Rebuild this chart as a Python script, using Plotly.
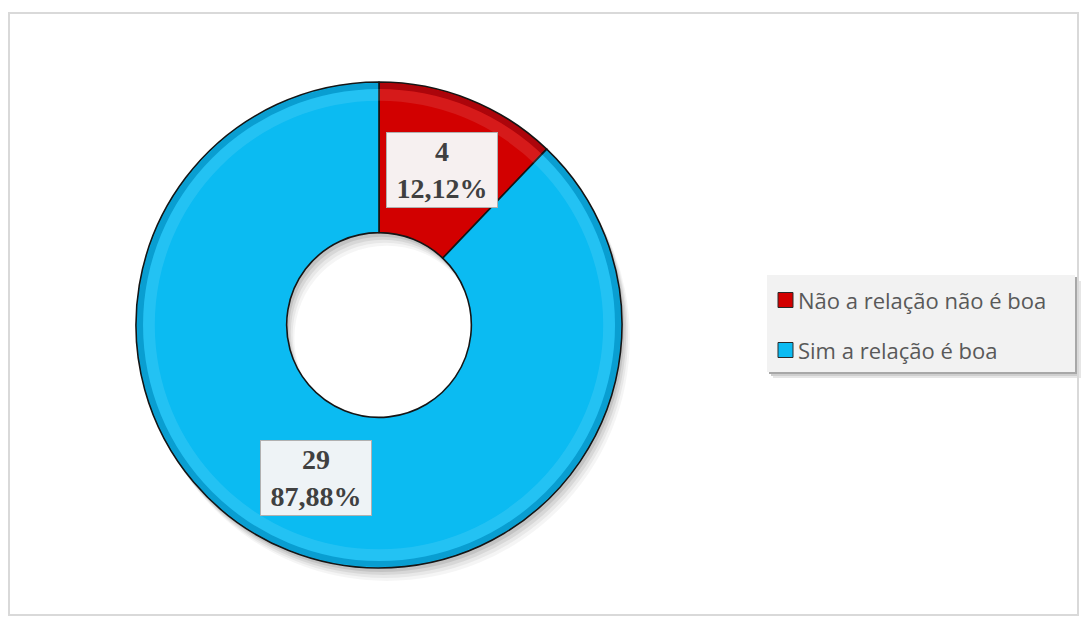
import plotly.graph_objects as go

# Survey answers
labels = ["Não a relação não é boa", "Sim a relação é boa"]
counts = [4, 29]
colors = ["#D20000", "#0BBBF2"]
box_colors = ["#F6F0F0", "#EEF3F6"]

W, H = 1085, 624


def px(x):
    return x / W


def py(y):
    return 1 - y / H


total = sum(counts)
pcts = [c / total * 100 for c in counts]
texts = [f"<b>{c}<br>{p:.2f}%</b>".replace(".", ",") for c, p in zip(counts, pcts)]

# ring geometry in pixels
cx, cy, r = 379, 325, 243
hole = 0.38


def dom(dx=0, dy=0, shrink=0):
    return dict(x=[px(cx - r + dx + shrink), px(cx + r + dx - shrink)],
                y=[py(cy + r + dy - shrink), py(cy - r + dy + shrink)])


fig = go.Figure()

# soft drop shadow under the ring
for off, alpha in [(13, 0.04), (10, 0.05), (7, 0.07), (4, 0.09)]:
    fig.add_trace(go.Pie(
        values=[1], labels=["s"], hole=hole, domain=dom(off * 0.6, off),
        marker=dict(colors=[f"rgba(0,0,0,{alpha})"], line=dict(width=0)),
        textinfo="none", hoverinfo="skip", sort=False, showlegend=False,
    ))

fig.add_trace(go.Pie(
    labels=labels, values=counts, hole=hole, domain=dom(),
    sort=False, direction="clockwise", rotation=0,
    marker=dict(colors=colors, line=dict(color="#151515", width=1.6)),
    textinfo="none", showlegend=False,
))

# bevel: darker rim just inside the outline, lighter band a little further in
fig.add_trace(go.Pie(
    values=[1], labels=["d"], hole=0.975, domain=dom(shrink=1),
    marker=dict(colors=["rgba(0,30,60,0.18)"], line=dict(width=0)),
    textinfo="none", hoverinfo="skip", sort=False, showlegend=False,
))
fig.add_trace(go.Pie(
    values=[1], labels=["h"], hole=0.95, domain=dom(shrink=7),
    marker=dict(colors=["rgba(255,255,255,0.10)"], line=dict(width=0)),
    textinfo="none", hoverinfo="skip", sort=False, showlegend=False,
))

shapes = []
# outer frame
shapes.append(dict(type="rect", xref="paper", yref="paper",
                   x0=px(9), x1=px(1078), y0=py(615), y1=py(13),
                   line=dict(color="#D9D9D9", width=2), fillcolor="rgba(0,0,0,0)"))

# legend panel with shadow
lx0, lx1, ly0, ly1 = 767, 1075, 275, 372
for off, col in [(6, "#E6E6E6"), (4, "#CFCFCF"), (2, "#A8A8A8")]:
    shapes.append(dict(type="rect", xref="paper", yref="paper",
                       x0=px(lx0 + off), x1=px(lx1 + off), y0=py(ly1 + off), y1=py(ly0 + off),
                       line=dict(width=0), fillcolor=col, layer="below"))
shapes.append(dict(type="rect", xref="paper", yref="paper",
                   x0=px(lx0), x1=px(lx1), y0=py(ly1), y1=py(ly0),
                   line=dict(width=0), fillcolor="#F2F2F2", layer="below"))

annotations = []
item_y = [300, 350]
for lab, col, yy in zip(labels, colors, item_y):
    shapes.append(dict(type="rect", xref="paper", yref="paper",
                       x0=px(778), x1=px(793), y0=py(yy + 7.5), y1=py(yy - 7.5),
                       line=dict(color="#2a2a2a", width=1), fillcolor=col))
    annotations.append(dict(x=px(796), y=py(yy), xref="paper", yref="paper",
                            text=lab, showarrow=False, xanchor="left", yanchor="middle",
                            font=dict(family="Open Sans", size=22, color="#595959")))

# value boxes on the slices
box_pos = [(442, 170), (316, 478)]
for t, (bx, by), bc in zip(texts, box_pos, box_colors):
    annotations.append(dict(x=px(bx), y=py(by), xref="paper", yref="paper",
                            text=t, showarrow=False, xanchor="center", yanchor="middle",
                            font=dict(family="Liberation Serif", size=28, color="#404040"),
                            bgcolor=bc, width=106, height=70, borderpad=2,
                            bordercolor="#B0B0B0", borderwidth=1))

fig.update_layout(
    width=W, height=H,
    margin=dict(l=0, r=0, t=0, b=0),
    paper_bgcolor="white", plot_bgcolor="white",
    shapes=shapes, annotations=annotations,
    showlegend=False,
)

fig.write_html("out.html")
